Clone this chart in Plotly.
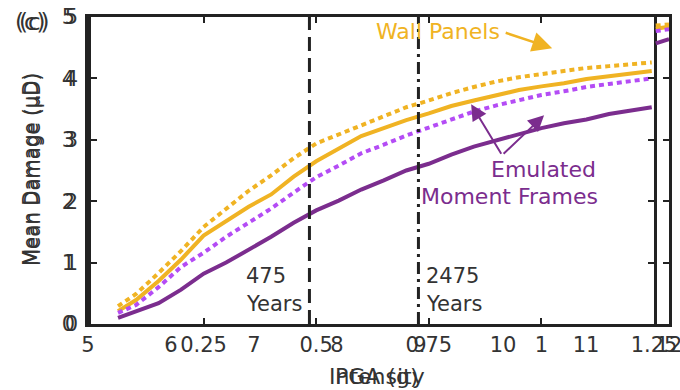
import plotly.graph_objects as go

# Mean damage vs. peak ground acceleration
pga = [0.06, 0.10, 0.15, 0.20, 0.25, 0.30, 0.35, 0.40, 0.45, 0.50, 0.55, 0.60,
       0.65, 0.70, 0.75, 0.80, 0.85, 0.90, 0.95, 1.00, 1.05, 1.10, 1.15, 1.20, 1.245]
wall_dotted = [0.29, 0.49, 0.83, 1.19, 1.58, 1.88, 2.17, 2.42, 2.70, 2.94, 3.09, 3.24,
               3.38, 3.53, 3.64, 3.76, 3.86, 3.95, 4.02, 4.07, 4.12, 4.17, 4.20, 4.23, 4.26]
wall_solid = [0.21, 0.39, 0.70, 1.05, 1.44, 1.68, 1.91, 2.11, 2.40, 2.65, 2.86, 3.06,
              3.19, 3.32, 3.43, 3.55, 3.64, 3.73, 3.81, 3.87, 3.92, 3.99, 4.04, 4.08, 4.12]
emf_dotted = [0.18, 0.31, 0.60, 0.93, 1.16, 1.42, 1.65, 1.88, 2.14, 2.39, 2.58, 2.78,
              2.92, 3.07, 3.20, 3.33, 3.46, 3.56, 3.64, 3.73, 3.79, 3.86, 3.91, 3.95, 4.00]
emf_solid = [0.10, 0.20, 0.34, 0.56, 0.82, 1.00, 1.21, 1.42, 1.65, 1.85, 2.01, 2.19,
             2.34, 2.50, 2.61, 2.76, 2.89, 2.99, 3.10, 3.19, 3.27, 3.33, 3.42, 3.48, 3.53]

# Intensity-scale curves (tail end near intensity 12)
intensity = [11.84, 12.0]
wall_dotted_i = [4.86, 4.88]
wall_solid_i = [4.81, 4.84]
emf_dotted_i = [4.77, 4.80]
emf_solid_i = [4.57, 4.64]

# Return-period markers (PGA, g)
rp_pga = [0.485, 0.727]
rp_labels = ["475", "2475"]

pga_ticks = [0.25, 0.5, 0.75, 1.0, 1.25]
pga_ticktext = ["0.25", "0.5", "0.75", "1", "1.25"]
int_ticks = [5, 6, 7, 8, 9, 10, 11, 12]
y_ticks = [0, 1, 2, 3, 4, 5]

ORANGE = "#F0B323"
PURPLE = "#7B2D8E"
VIOLET = "#B44CF5"
INK = "#222222"
FONT = "DejaVu Sans"

fig = go.Figure()

def add_curve(x, y, color, dash, xa, ya):
    fig.add_trace(go.Scatter(x=x, y=y, mode="lines", xaxis=xa, yaxis=ya,
                             line=dict(color=color, width=4, dash=dash),
                             showlegend=False, hoverinfo="skip"))

add_curve(intensity, wall_dotted_i, ORANGE, "5px,4px", "x2", "y2")
add_curve(intensity, wall_solid_i, ORANGE, "solid", "x2", "y2")
add_curve(intensity, emf_dotted_i, VIOLET, "5px,4px", "x2", "y2")
add_curve(intensity, emf_solid_i, PURPLE, "solid", "x2", "y2")

add_curve(pga, wall_dotted, ORANGE, "5px,4px", "x", "y")
add_curve(pga, wall_solid, ORANGE, "solid", "x", "y")
add_curve(pga, emf_dotted, VIOLET, "5px,4px", "x", "y")
add_curve(pga, emf_solid, PURPLE, "solid", "x", "y")

# Vertical return-period lines
for xv, dash in zip(rp_pga, ["14px,7px", "12px,5px,3px,5px"]):
    fig.add_trace(go.Scatter(x=[xv, xv], y=[0, 5], mode="lines", xaxis="x", yaxis="y",
                             line=dict(color=INK, width=3, dash=dash),
                             showlegend=False, hoverinfo="skip"))

W, H = 680, 390
ml, mr, mt, mb = 88, 11, 17, 66
pw = W - ml - mr
pga_left, pga_right = 91, 654

tickfont = dict(family=FONT, size=21, color="#333333")

fig.update_layout(
    width=W, height=H,
    margin=dict(l=ml, r=mr, t=mt, b=mb, autoexpand=False),
    paper_bgcolor="white", plot_bgcolor="rgba(0,0,0,0)",
    font=dict(family=FONT, color="#333333"),
    xaxis=dict(domain=[(pga_left - ml) / pw, (pga_right - ml) / pw], anchor="y",
               range=[0, 1.25], tickvals=pga_ticks, ticktext=pga_ticktext,
               ticks="inside", ticklen=6, tickwidth=1.5, tickcolor=INK,
               showline=True, linecolor=INK, linewidth=2.5, mirror="ticks",
               showgrid=False, zeroline=False, tickfont=tickfont,
               ticklabeloverflow="allow"),
    yaxis=dict(domain=[0, 1], anchor="x", range=[0, 5], tickvals=y_ticks,
               ticks="inside", ticklen=6, tickwidth=1.5, tickcolor=INK,
               showline=True, linecolor=INK, linewidth=2.5, mirror="ticks",
               showgrid=False, zeroline=False, tickfont=tickfont,
               ticklabelstandoff=6),
    xaxis2=dict(domain=[0, 1], anchor="y2", range=[5, 12], tickvals=int_ticks,
                ticks="", showline=True, linecolor=INK, linewidth=2.5, mirror=True,
                showgrid=False, zeroline=False, tickfont=tickfont,
                ticklabeloverflow="allow"),
    yaxis2=dict(domain=[0, 1], anchor="x2", range=[0, 5], tickvals=y_ticks,
                ticks="inside", ticklen=6, tickwidth=1.5, tickcolor=INK,
                showline=True, linecolor=INK, linewidth=2.5, mirror="ticks",
                showgrid=False, zeroline=False, tickfont=tickfont,
                ticklabelstandoff=6),
)

ann = []

def ptext(text, x, y, size, color="#333333", xanchor="left", angle=0, family=FONT):
    ann.append(dict(text=text, x=x, y=y, xref="paper", yref="paper", showarrow=False,
                    xanchor=xanchor, yanchor="middle", textangle=angle,
                    font=dict(family=family, size=size, color=color)))

def px2paper(px, py):
    return (px - ml) / pw, (H - mb - py) / (H - mt - mb)

# Panel tag
for dx in (0, 4):
    x, y = px2paper(13 + dx, 22)
    ptext("(c)", x, y, 23)

# Axis titles
for dx in (0, 2):
    x, y = px2paper(30 + dx, 170)
    ptext("Mean Damage (μD)", x, y, 22, xanchor="center", angle=-90,
          family="DejaVu Sans Condensed, DejaVu Sans")
for t in ("Intensity", "PGA (g)"):
    x, y = px2paper(377, 376)
    ptext(t, x, y, 22, xanchor="center")

def dtext(text, x, y, size, color="#333333"):
    ann.append(dict(text=text, x=x, y=y, xref="x", yref="y", showarrow=False,
                    xanchor="left", yanchor="middle",
                    font=dict(family=FONT, size=size, color=color)))

for xv, lab, off in zip(rp_pga, rp_labels, [-0.146, 0.013]):
    dtext(lab, xv + off, 0.78, 21)
    dtext("Years", xv + off, 0.32, 21)

dtext("Wall Panels", 0.629, 4.77, 22, ORANGE)
dtext("Emulated", 0.884, 2.51, 22, PURPLE)
dtext("Moment Frames", 0.729, 2.07, 22, PURPLE)

def arrow(x, y, ax, ay, color, width):
    ann.append(dict(text="", x=x, y=y, xref="x", yref="y", ax=ax, ay=ay,
                    showarrow=True, arrowhead=2, arrowsize=1.6, arrowwidth=width,
                    arrowcolor=color))

arrow(1.024, 4.49, -48, -16, ORANGE, 2.5)
arrow(0.844, 3.58, 31, 51, PURPLE, 2)
arrow(1.006, 3.40, -42, 40, PURPLE, 2)

fig.update_layout(annotations=ann)
fig.write_html("out.html")
